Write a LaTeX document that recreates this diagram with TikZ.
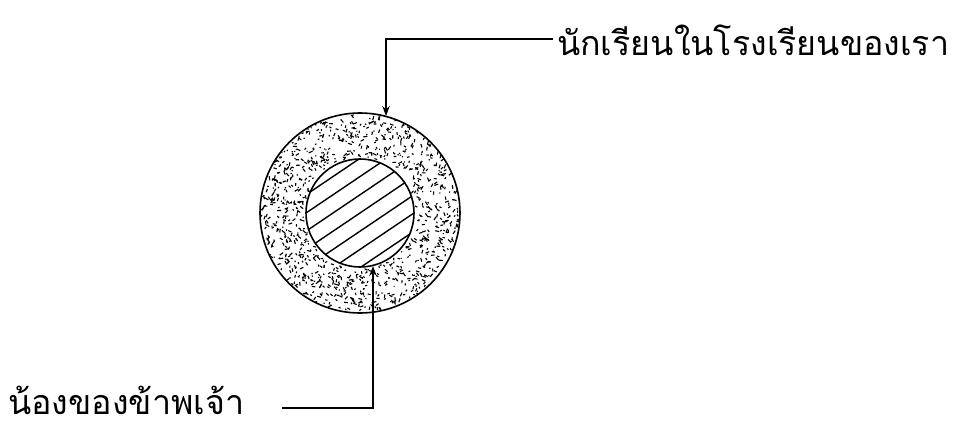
\documentclass[tikz,border=0pt]{standalone}
\usepackage{fontspec}
\newfontfamily\thaifont[Script=Thai]{Loma}
\usetikzlibrary{arrows.meta,calc}
\tikzset{
  ring/.style={draw=black, line width=1.6pt},
  callout/.style={draw=black, line width=1.6pt},
  arrowcallout/.style={callout, -{Stealth[length=10pt,width=7.5pt]}},
  lbl/.style={font=\thaifont\fontsize{34}{38}\selectfont, inner sep=0pt},
  hatch/.style={draw=black, line width=1.4pt}
}
\begin{document}
\begin{tikzpicture}[x=1pt,y=-1pt]
\useasboundingbox (0,0) rectangle (964,422);
\coordinate (c) at (360,213);
% stipple in the ring
\pgfmathsetseed{7}
\begin{scope}
\clip (c) circle (100);
\foreach \i in {1,...,1000}{
  \pgfmathsetmacro{\ang}{360*rnd}
  \pgfmathsetmacro{\rad}{sqrt(56*56+rnd*(99*99-56*56))}
  \pgfmathsetmacro{\rot}{360*rnd}
  \pgfmathsetmacro{\len}{0.5+1.6*rnd}
  \fill[black, shift={($(c)+(\ang:\rad)$)}, rotate=\rot] (-\len,-0.55) rectangle (\len,0.55);
}
\end{scope}
% inner circle white with hatching
\fill[white] (c) circle (54);
\begin{scope}
\clip (c) circle (54);
\foreach \k in {-4,...,4}{
  \draw[hatch] ($(c)+(\k*27,0)+(-100,67.5)$) -- ($(c)+(\k*27,0)+(100,-67.5)$);
}
\end{scope}
\node[ring, circle, minimum size=200pt, inner sep=0pt] (outer) at (c) {};
\node[ring, circle, minimum size=108pt, inner sep=0pt] (inner) at (c) {};
% labels
\node[lbl, anchor=west] (top) at (557,40) {นักเรียนในโรงเรียนของเรา};
\node[lbl, anchor=base west] (bot) at (8,414) {น้องของข้าพเจ้า};
\coordinate (topcorner) at (386,39);
\coordinate (topstart) at (553,39);
\coordinate (topend) at (386,116);
\coordinate (botstart) at (282,408);
\coordinate (botcorner) at (373,408);
\coordinate (botend) at (373,266);
\draw[arrowcallout] (topstart) -- (topcorner) -- (topend);
\draw[arrowcallout] (botstart) -- (botcorner) -- (botend);
\end{tikzpicture}
\end{document}
